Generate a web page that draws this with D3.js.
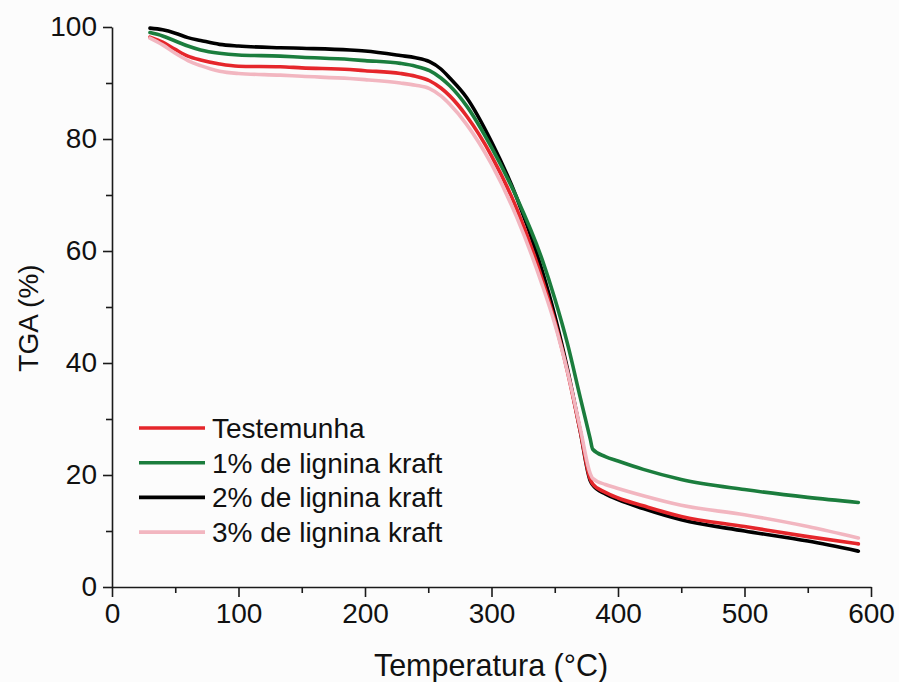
<!DOCTYPE html>
<html>
<head>
<meta charset="utf-8">
<script src="https://cdn.jsdelivr.net/npm/d3@7"></script>
<style>
  html, body { margin: 0; padding: 0; background: #fcfcfc; }
  svg { display: block; font-family: "Liberation Sans", Arial, sans-serif; }
</style>
</head>
<body>
<svg id="chart" width="899" height="682"></svg>
<script>
// Temperature grid (°C) shared by all TGA curves
const temperatures = [30, 40, 50, 60, 70, 85, 100, 133, 150, 188, 200, 228, 240, 251, 260, 267, 280, 300, 320, 340, 350, 360, 370, 378, 380, 390, 400, 420, 450, 500, 550, 590];

// Residual mass (%) per sample
const testemunha = [98.2, 97.3, 96.0, 94.8, 94.1, 93.4, 93.0, 92.9, 92.7, 92.4, 92.2, 91.7, 91.2, 90.4, 89.1, 87.7, 84.2, 77.0, 67.5, 55.0, 47.5, 38.5, 28.0, 19.3, 18.4, 16.9, 15.9, 14.5, 12.6, 10.8, 9.0, 7.7];
const lignina1 = [99.0, 98.4, 97.5, 96.6, 95.9, 95.3, 95.0, 94.8, 94.6, 94.2, 94.0, 93.5, 93.0, 92.2, 90.9, 89.5, 86.0, 78.5, 69.5, 58.5, 51.5, 43.5, 34.0, 26.5, 24.6, 23.3, 22.5, 21.0, 19.2, 17.4, 16.0, 15.1];
const lignina2 = [99.8, 99.5, 98.9, 98.1, 97.6, 96.9, 96.6, 96.3, 96.2, 95.9, 95.7, 94.9, 94.5, 93.8, 92.5, 90.9, 87.5, 79.5, 69.5, 56.5, 48.5, 39.0, 28.0, 19.0, 18.2, 16.6, 15.6, 14.0, 12.0, 10.0, 8.2, 6.4];
const lignina3 = [98.0, 96.8, 95.3, 94.0, 93.1, 92.1, 91.7, 91.4, 91.2, 90.8, 90.6, 90.0, 89.6, 89.0, 87.7, 86.2, 82.7, 75.5, 66.0, 54.0, 47.0, 38.5, 28.5, 20.3, 19.4, 18.3, 17.6, 16.3, 14.6, 12.9, 10.8, 8.75];

const seriesNames = ["Testemunha", "1% de lignina kraft", "2% de lignina kraft", "3% de lignina kraft"];
const seriesColors = ["#e5262b", "#1b7d3d", "#000000", "#f2b6c0"];
const seriesValues = [testemunha, lignina1, lignina2, lignina3];

const xMajorTicks = [0, 100, 200, 300, 400, 500, 600];
const xMinorTicks = [50, 150, 250, 350, 450, 550];
const yMajorTicks = [0, 20, 40, 60, 80, 100];
const yMinorTicks = [10, 30, 50, 70, 90];

const svg = d3.select("#chart");
const x = d3.scaleLinear().domain([0, 600]).range([112, 871]);
const y = d3.scaleLinear().domain([0, 100]).range([587, 27]);

const axisColor = "#1a1a1a";

// X axis: major ticks with labels, minor ticks without
svg.append("g").attr("transform", `translate(0,${y(0)})`)
  .call(d3.axisBottom(x).tickValues(xMajorTicks).tickSize(10).tickSizeOuter(0).tickPadding(6).tickFormat(d3.format("d")));
svg.append("g").attr("transform", `translate(0,${y(0)})`)
  .call(d3.axisBottom(x).tickValues(xMinorTicks).tickSize(6).tickSizeOuter(0).tickFormat(""))
  .select(".domain").remove();

// Y axis
svg.append("g").attr("transform", `translate(${x(0)},0)`)
  .call(d3.axisLeft(y).tickValues(yMajorTicks).tickSize(9).tickSizeOuter(0).tickPadding(6).tickFormat(d3.format("d")));
svg.append("g").attr("transform", `translate(${x(0)},0)`)
  .call(d3.axisLeft(y).tickValues(yMinorTicks).tickSize(6).tickSizeOuter(0).tickFormat(""))
  .select(".domain").remove();

svg.selectAll(".domain, .tick line").attr("stroke", axisColor).attr("stroke-width", 1.6);
svg.selectAll(".tick text").attr("fill", "#111").style("font-size", "28px").style("font-family", '"Liberation Sans", Arial, sans-serif');

// Axis titles
svg.append("text")
  .attr("x", 491).attr("y", 676)
  .attr("text-anchor", "middle").attr("fill", "#111")
  .style("font-size", "30.5px")
  .text("Temperatura (°C)");

svg.append("text")
  .attr("transform", "translate(38,318) rotate(-90)")
  .attr("text-anchor", "middle").attr("fill", "#111")
  .style("font-size", "28px")
  .text("TGA (%)");

// Curves
const line = d3.line()
  .x((d, i) => x(temperatures[i]))
  .y(d => y(d))
  .curve(d3.curveMonotoneX);

const drawOrder = [2, 0, 1, 3];
drawOrder.forEach(k => {
  svg.append("path")
    .datum(seriesValues[k])
    .attr("fill", "none")
    .attr("stroke", seriesColors[k])
    .attr("stroke-width", 3.6)
    .attr("stroke-linejoin", "round")
    .attr("stroke-linecap", "round")
    .attr("d", line);
});

// Legend
const legend = svg.append("g").attr("transform", "translate(139,428)");
seriesNames.forEach((name, i) => {
  const g = legend.append("g").attr("transform", `translate(0,${i * 34.7})`);
  g.append("line")
    .attr("x1", 0).attr("x2", 66).attr("y1", 0).attr("y2", 0)
    .attr("stroke", seriesColors[i]).attr("stroke-width", 3.6);
  g.append("text")
    .attr("x", 73).attr("y", 10)
    .attr("fill", "#111")
    .style("font-size", "28px")
    .text(name);
});
</script>
</body>
</html>
